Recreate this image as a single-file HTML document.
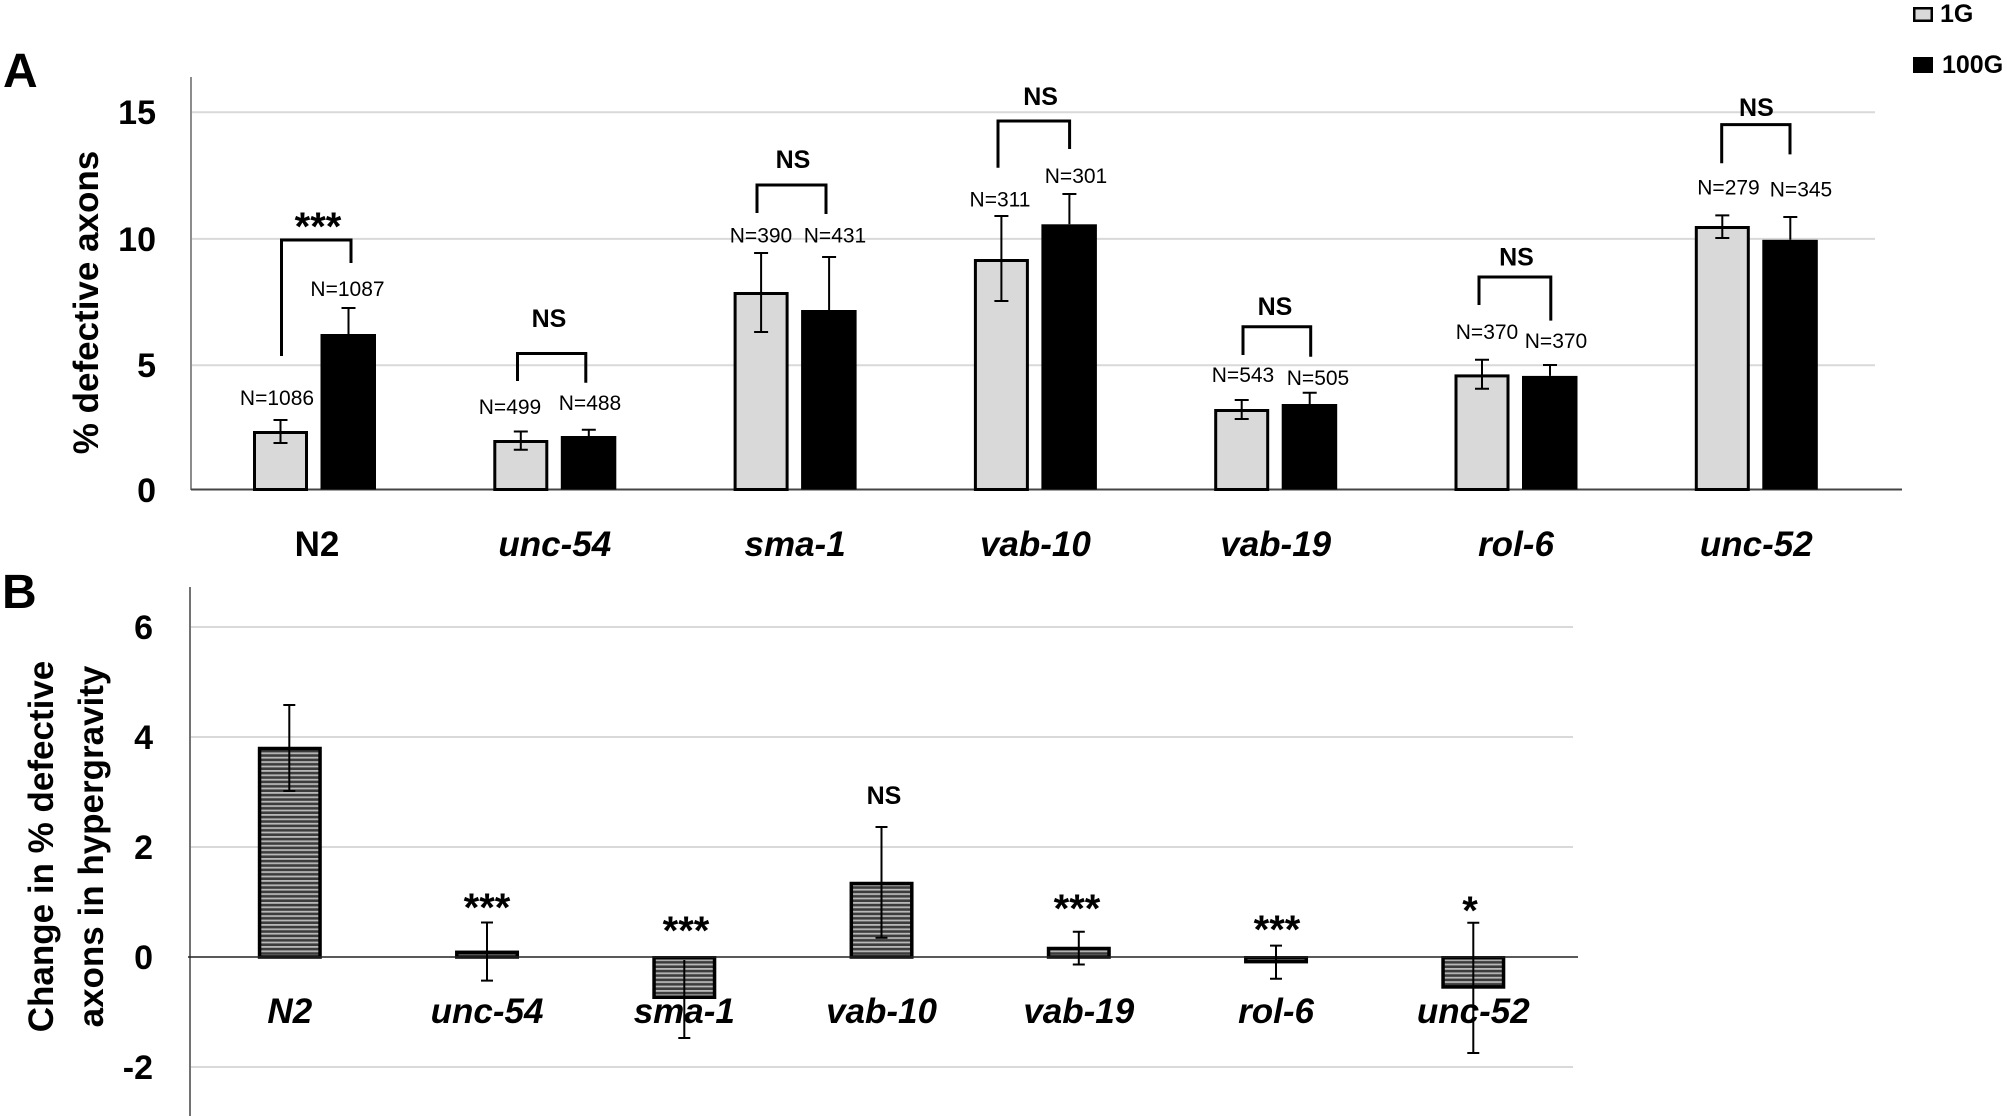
<!DOCTYPE html>
<html>
<head>
<meta charset="utf-8">
<style>
  html,body{margin:0;padding:0;background:#fff;}
  svg{display:block;}
  text{font-family:"Liberation Sans", Arial, sans-serif;fill:#000;}
  .b{font-weight:bold;}
  .bi{font-weight:bold;font-style:italic;}
  .n{font-size:21px;}
</style>
</head>
<body>
<svg width="2007" height="1116" viewBox="0 0 2007 1116" xmlns="http://www.w3.org/2000/svg">
  <defs>
    <pattern id="hat" width="8" height="4.4" patternUnits="userSpaceOnUse">
      <rect width="8" height="4.4" fill="#3c3c3c"/>
      <rect y="0" width="8" height="1.8" fill="#b8b8b8"/>
    </pattern>
  </defs>

  <!-- ================= PANEL A ================= -->
  <text class="b" x="3" y="87" font-size="48">A</text>

  <!-- gridlines -->
  <g stroke="#d9d9d9" stroke-width="2">
    <line x1="192" y1="112.3" x2="1875" y2="112.3"/>
    <line x1="192" y1="238.9" x2="1875" y2="238.9"/>
    <line x1="192" y1="365.2" x2="1875" y2="365.2"/>
  </g>
  <!-- axes -->
  <line x1="191" y1="77" x2="191" y2="490" stroke="#666" stroke-width="1.5"/>
  <line x1="191" y1="489.5" x2="1902" y2="489.5" stroke="#444" stroke-width="2"/>

  <!-- tick labels -->
  <g class="b" font-size="34" text-anchor="end">
    <text x="156" y="124">15</text>
    <text x="156" y="251">10</text>
    <text x="156" y="377">5</text>
    <text x="156" y="502">0</text>
  </g>

  <!-- y title -->
  <text class="b" font-size="35" text-anchor="middle" transform="translate(98,302.5) rotate(-90)">% defective axons</text>

  <!-- bars 1G -->
  <g fill="#d9d9d9" stroke="#000" stroke-width="3">
    <rect x="254.5" y="432.5" width="52" height="57"/>
    <rect x="494.8" y="441.5" width="52" height="48"/>
    <rect x="735.1" y="293.5" width="52" height="196"/>
    <rect x="975.4" y="260.5" width="52" height="229"/>
    <rect x="1215.7" y="410.5" width="52" height="79"/>
    <rect x="1456" y="375.9" width="52" height="113.6"/>
    <rect x="1696.3" y="227.5" width="52" height="262"/>
  </g>
  <!-- bars 100G -->
  <g fill="#000">
    <rect x="320.5" y="334" width="55.5" height="155.5"/>
    <rect x="560.8" y="436" width="55.5" height="53.5"/>
    <rect x="801.1" y="310" width="55.5" height="179.5"/>
    <rect x="1041.4" y="224.3" width="55.5" height="265.2"/>
    <rect x="1281.7" y="404" width="55.5" height="85.5"/>
    <rect x="1522" y="375.9" width="55.5" height="113.6"/>
    <rect x="1762.3" y="239.8" width="55.5" height="249.7"/>
  </g>

  <!-- error bars A -->
  <g stroke="#000" stroke-width="2" fill="none">
    <!-- N2 -->
    <path d="M280.5 420V443M273.5 420H287.5M273.5 443H287.5"/>
    <path d="M348.5 308V334M341.5 308H355.5"/>
    <!-- unc-54 -->
    <path d="M520.8 431.5V449.7M513.8 431.5H527.8M513.8 449.7H527.8"/>
    <path d="M588.8 429.7V436M581.8 429.7H595.8"/>
    <!-- sma-1 -->
    <path d="M761.1 253V332M754.1 253H768.1M754.1 332H768.1"/>
    <path d="M829.1 257V310M822.1 257H836.1"/>
    <!-- vab-10 -->
    <path d="M1001.4 216V301M994.4 216H1008.4M994.4 301H1008.4"/>
    <path d="M1069.4 194V224.3M1062.4 194H1076.4"/>
    <!-- vab-19 -->
    <path d="M1241.7 400V419M1234.7 400H1248.7M1234.7 419H1248.7"/>
    <path d="M1309.7 392.7V404M1302.7 392.7H1316.7"/>
    <!-- rol-6 -->
    <path d="M1482 359.7V388.8M1475 359.7H1489M1475 388.8H1489"/>
    <path d="M1550 365V375.9M1543 365H1557"/>
    <!-- unc-52 -->
    <path d="M1722.3 215.4V238M1715.3 215.4H1729.3M1715.3 238H1729.3"/>
    <path d="M1790.3 217V239.8M1783.3 217H1797.3"/>
  </g>

  <!-- brackets -->
  <g stroke="#000" stroke-width="3" fill="none">
    <polyline points="281.5,356 281.5,240 351,240 351,263"/>
    <polyline points="517.5,381 517.5,353.5 585.8,353.5 585.8,382.7"/>
    <polyline points="757,213 757,185 826,185 826,214"/>
    <polyline points="998,167.7 998,121 1069.6,121 1069.6,149"/>
    <polyline points="1243,355 1243,326.7 1310.7,326.7 1310.7,356.7"/>
    <polyline points="1479,305 1479,277 1550.8,277 1550.8,320.6"/>
    <polyline points="1721.7,163.3 1721.7,124.6 1790,124.6 1790,154.4"/>
  </g>

  <!-- significance labels A -->
  <g class="b" text-anchor="middle">
    <text x="318" y="240" font-size="40">***</text>
    <text x="549" y="327" font-size="25">NS</text>
    <text x="793" y="168" font-size="25">NS</text>
    <text x="1040.6" y="105" font-size="25">NS</text>
    <text x="1275" y="315" font-size="25">NS</text>
    <text x="1516.5" y="265.7" font-size="25">NS</text>
    <text x="1756.4" y="116" font-size="25">NS</text>
  </g>

  <!-- N labels -->
  <g class="n" text-anchor="middle">
    <text x="277" y="405">N=1086</text>
    <text x="347.5" y="296">N=1087</text>
    <text x="510" y="414">N=499</text>
    <text x="590" y="410">N=488</text>
    <text x="761" y="242.5">N=390</text>
    <text x="835" y="242.5">N=431</text>
    <text x="1000" y="206.5">N=311</text>
    <text x="1076" y="183">N=301</text>
    <text x="1243" y="382">N=543</text>
    <text x="1318" y="385">N=505</text>
    <text x="1487" y="339">N=370</text>
    <text x="1556" y="348">N=370</text>
    <text x="1728.5" y="194.5">N=279</text>
    <text x="1801" y="196.5">N=345</text>
  </g>

  <!-- category labels A -->
  <g font-size="35" text-anchor="middle">
    <text class="b" x="317" y="556">N2</text>
    <text class="bi" x="554.8" y="556">unc-54</text>
    <text class="bi" x="795.1" y="556">sma-1</text>
    <text class="bi" x="1035.4" y="556">vab-10</text>
    <text class="bi" x="1275.7" y="556">vab-19</text>
    <text class="bi" x="1516" y="556">rol-6</text>
    <text class="bi" x="1756.3" y="556">unc-52</text>
  </g>

  <!-- legend -->
  <rect x="1914.25" y="8.25" width="17.5" height="12.5" fill="#d9d9d9" stroke="#000" stroke-width="2.5"/>
  <text class="b" x="1940" y="22" font-size="25">1G</text>
  <rect x="1913" y="57" width="20" height="16" fill="#000"/>
  <text class="b" x="1942" y="73" font-size="25">100G</text>

  <!-- ================= PANEL B ================= -->
  <text class="b" x="2" y="608" font-size="48">B</text>

  <g stroke="#d9d9d9" stroke-width="2">
    <line x1="191" y1="627" x2="1573" y2="627"/>
    <line x1="191" y1="737" x2="1573" y2="737"/>
    <line x1="191" y1="847" x2="1573" y2="847"/>
    <line x1="191" y1="1067" x2="1573" y2="1067"/>
  </g>
  <line x1="190" y1="587" x2="190" y2="1116" stroke="#444" stroke-width="1.5"/>

  <g class="b" font-size="34" text-anchor="end">
    <text x="153" y="639">6</text>
    <text x="153" y="749">4</text>
    <text x="153" y="859">2</text>
    <text x="153" y="969">0</text>
    <text x="153" y="1079">-2</text>
  </g>

  <text class="b" font-size="35" text-anchor="middle" transform="translate(53,846.5) rotate(-90)">Change in % defective</text>
  <text class="b" font-size="35" text-anchor="middle" transform="translate(103,846.5) rotate(-90)">axons in hypergravity</text>

  <!-- hatched bars -->
  <g fill="url(#hat)" stroke="#000" stroke-width="3.5">
    <rect x="259.55" y="748.5" width="60.5" height="208.5"/>
    <rect x="456.8" y="952.3" width="60.5" height="4.7"/>
    <rect x="654.05" y="957.75" width="60.5" height="39.5"/>
    <rect x="851.3" y="883.5" width="60.5" height="73.5"/>
    <rect x="1048.55" y="948.5" width="60.5" height="8.5"/>
    <rect x="1245.8" y="957.75" width="60.5" height="3.9"/>
    <rect x="1443.05" y="957.75" width="60.5" height="29.2"/>
  </g>

  <!-- zero baseline B -->
  <line x1="188" y1="957" x2="1578" y2="957" stroke="#222" stroke-width="1.5"/>

  <!-- error bars B -->
  <g stroke="#000" stroke-width="2" fill="none">
    <path d="M289.3 705V791M283.3 705H295.3M283.3 791H295.3"/>
    <path d="M487 922.5V980.6M481 922.5H493M481 980.6H493"/>
    <path d="M684.3 960V1038M678.3 1038H690.3"/>
    <path d="M881.5 827V937.8M875.5 827H887.5M875.5 937.8H887.5"/>
    <path d="M1078.8 931.7V964.5M1072.8 931.7H1084.8M1072.8 964.5H1084.8"/>
    <path d="M1276 945.6V978.8M1270 945.6H1282M1270 978.8H1282"/>
    <path d="M1473.3 922.8V1053M1467.3 922.8H1479.3M1467.3 1053H1479.3"/>
  </g>

  <!-- significance B -->
  <g class="b" text-anchor="middle">
    <text x="487" y="921" font-size="40">***</text>
    <text x="686" y="944" font-size="40">***</text>
    <text x="884" y="804" font-size="25">NS</text>
    <text x="1077" y="922" font-size="40">***</text>
    <text x="1277" y="943" font-size="40">***</text>
    <text x="1470" y="924" font-size="40">*</text>
  </g>

  <!-- category labels B -->
  <g class="bi" font-size="35" text-anchor="middle">
    <text x="289.8" y="1023">N2</text>
    <text x="487.05" y="1023">unc-54</text>
    <text x="684.3" y="1023">sma-1</text>
    <text x="881.55" y="1023">vab-10</text>
    <text x="1078.8" y="1023">vab-19</text>
    <text x="1276.05" y="1023">rol-6</text>
    <text x="1473.3" y="1023">unc-52</text>
  </g>
</svg>
</body>
</html>
